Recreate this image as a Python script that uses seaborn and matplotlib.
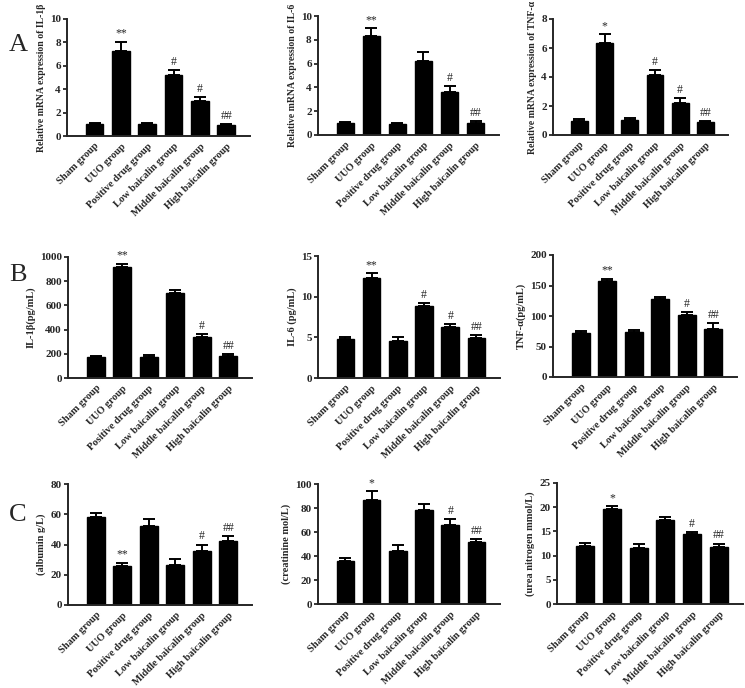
"""Baicalin UUO experiment: 3x3 grid of bar charts with upper error bars."""

import matplotlib
matplotlib.use("Agg")
import matplotlib.pyplot as plt
import seaborn as sns
import pandas as pd

sns.set_style("ticks")
plt.rcParams['font.family'] = ['Liberation Serif', 'DejaVu Serif']
plt.rcParams['font.weight'] = 'bold'

# 組別
groups = ["Sham group", "UUO group", "Positive drug group",
          "Low baicalin group", "Middle baicalin group", "High baicalin group"]

# A: mRNA
il1b_mrna = [1.0, 7.3, 1.0, 5.2, 3.0, 0.9]
il1b_mrna_err = [0.1, 0.75, 0.1, 0.4, 0.3, 0.1]
il1b_mrna_sig = ["", "**", "", "#", "#", "##"]

il6_mrna = [1.0, 8.3, 0.9, 6.2, 3.6, 1.05]
il6_mrna_err = [0.1, 0.65, 0.1, 0.75, 0.5, 0.1]
il6_mrna_sig = ["", "**", "", "", "#", "##"]

tnf_mrna = [1.0, 6.35, 1.05, 4.15, 2.2, 0.9]
tnf_mrna_err = [0.1, 0.6, 0.1, 0.35, 0.35, 0.07]
tnf_mrna_sig = ["", "*", "", "#", "#", "##"]

# B: serum cytokines
il1b_pg = [170, 915, 175, 700, 340, 180]
il1b_pg_err = [15, 30, 15, 25, 25, 20]
il1b_pg_sig = ["", "**", "", "", "#", "##"]

il6_pg = [4.75, 12.3, 4.6, 8.8, 6.25, 4.95]
il6_pg_err = [0.3, 0.6, 0.5, 0.45, 0.4, 0.3]
il6_pg_sig = ["", "**", "", "#", "#", "##"]

tnf_pg = [72, 158, 74, 128, 102, 79]
tnf_pg_err = [4, 3, 3, 3, 4, 10]
tnf_pg_sig = ["", "**", "", "", "#", "##"]

# C: renal function
albumin = [58.5, 25.8, 52.3, 26.5, 35.5, 42.0]
albumin_err = [2.5, 2.2, 4.5, 4.0, 4.5, 3.5]
albumin_sig = ["", "**", "", "", "#", "##"]

creatinine = [36, 87, 44.5, 78.5, 65.5, 51.5]
creatinine_err = [2.5, 7, 5, 4.5, 5, 3]
creatinine_sig = ["", "*", "", "", "#", "##"]

urea = [12.0, 19.6, 11.6, 17.3, 14.5, 11.8]
urea_err = [0.7, 0.6, 0.7, 0.7, 0.4, 0.7]
urea_sig = ["", "*", "", "", "#", "##"]

W, H = 745, 688

panels = [
    # (values, err, sig, ylabel, ymax, ystep, box px: left, right, top, bottom)
    (il1b_mrna, il1b_mrna_err, il1b_mrna_sig, "Relative mRNA expression of IL-1β", 10, 2, (67, 250, 19, 136)),
    (il6_mrna, il6_mrna_err, il6_mrna_sig, "Relative mRNA expression of IL-6", 10, 2, (318, 499, 16, 135)),
    (tnf_mrna, tnf_mrna_err, tnf_mrna_sig, "Relative mRNA expression of TNF-α", 8, 2, (553, 728, 19, 135)),
    (il1b_pg, il1b_pg_err, il1b_pg_sig, "IL-1β(pg/mL)", 1000, 200, (68, 252, 257, 378)),
    (il6_pg, il6_pg_err, il6_pg_sig, "IL-6 (pg/mL)", 15, 5, (318, 500, 256, 378)),
    (tnf_pg, tnf_pg_err, tnf_pg_sig, "TNF-α(pg/mL)", 200, 50, (553, 737, 255, 377)),
    (albumin, albumin_err, albumin_sig, "(albumin g/L)", 80, 20, (68, 252, 484, 605)),
    (creatinine, creatinine_err, creatinine_sig, "(creatinine mol/L)", 100, 20, (318, 500, 484, 604)),
    (urea, urea_err, urea_sig, "(urea nitrogen mmol/L)", 25, 5, (557, 743, 483, 604)),
]

fig = plt.figure(figsize=(W / 100, H / 100), dpi=100)

for vals, err, sig, ylabel, ymax, ystep, (l, r, t, b) in panels:
    ax = fig.add_axes([l / W, 1 - b / H, (r - l) / W, (b - t) / H])
    df = pd.DataFrame({"group": groups, "value": vals})
    sns.barplot(data=df, x="group", y="value", color="black", width=0.67,
                saturation=1, edgecolor="black", ax=ax)
    # 只畫上方誤差線
    ax.errorbar(range(len(groups)), vals, yerr=[[0] * len(err), err], fmt="none",
                ecolor="black", elinewidth=1.4, capsize=4.5, capthick=1.4)
    for i, (v, e, s) in enumerate(zip(vals, err, sig)):
        if s:
            ax.annotate(s, (i, v + e), xytext=(0, 1.5), textcoords="offset points",
                        ha="center", va="bottom", fontsize=8.5, fontweight="normal")
    ax.set_xlim(-1.05, 5.9)
    ax.set_ylim(0, ymax)
    ax.set_yticks(range(0, ymax + 1, ystep))
    ax.set_xlabel("")
    # 長標籤縮小字體以免超出頂部
    ax.set_ylabel(ylabel, fontsize=7 if len(ylabel) > 25 else 7.5,
                  fontweight="bold", labelpad=3)
    ax.set_xticks(range(len(groups)))
    ax.set_xticklabels(groups, rotation=45, ha="right", rotation_mode="anchor",
                       fontsize=7.5, fontweight="bold")
    ax.tick_params(axis="x", length=0, pad=4)
    ax.tick_params(axis="y", length=3, width=1.3, labelsize=8, pad=1.5)
    for lab in ax.get_yticklabels():
        lab.set_fontweight("bold")
    sns.despine(ax=ax)
    ax.spines["left"].set_linewidth(1.4)
    ax.spines["bottom"].set_linewidth(1.4)

# 面板字母
for letter, y in [("A", 45), ("B", 275), ("C", 515)]:
    fig.text(18 / W, 1 - y / H, letter, fontsize=19, fontweight="normal",
             ha="center", va="center")

fig.savefig("out.png", dpi=100)
